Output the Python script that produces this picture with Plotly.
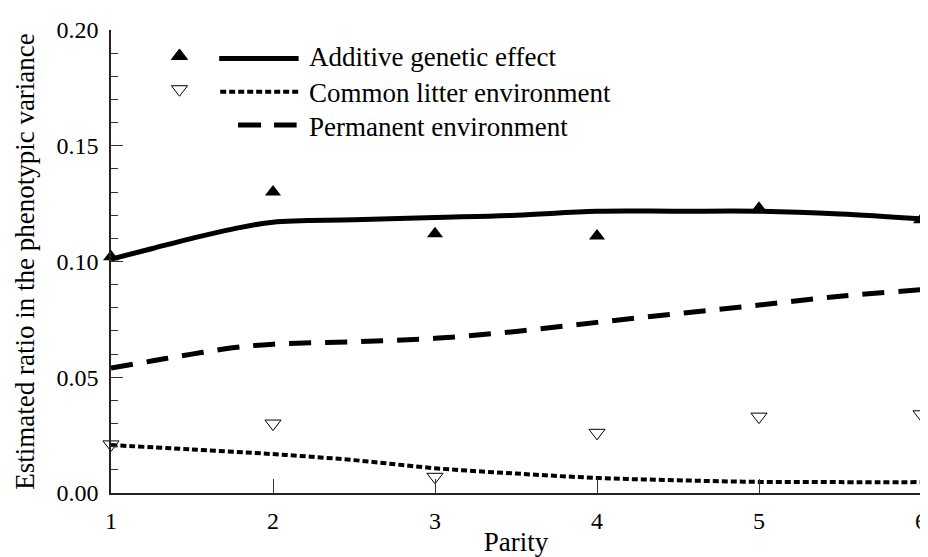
import plotly.graph_objects as go

# ---- data ----
parity = [1, 2, 3, 4, 5, 6]
additive_obs = [0.102, 0.130, 0.112, 0.111, 0.123, 0.118]
litter_obs = [0.021, 0.030, 0.007, 0.026, 0.033, 0.034]

curve_x_add = [1, 1.25, 1.5, 1.75, 2, 2.5, 3, 3.5, 4, 4.5, 5, 5.5, 6]
additive_fit = [0.101, 0.1055, 0.110, 0.114, 0.117, 0.118, 0.119, 0.120, 0.1217, 0.1217, 0.1217, 0.1205, 0.1184]

curve_x_perm = [1, 1.25, 1.5, 1.75, 2, 2.5, 3, 3.5, 4, 4.5, 5, 5.5, 6]
permanent_fit = [0.054, 0.057, 0.060, 0.0627, 0.0643, 0.0653, 0.0668, 0.0698, 0.0737, 0.0775, 0.0812, 0.085, 0.0878]

curve_x_lit = [1, 1.5, 2, 2.5, 3, 3.5, 4, 4.5, 5, 5.5, 6]
litter_fit = [0.0207, 0.0188, 0.0168, 0.0142, 0.0107, 0.0084, 0.0065, 0.0055, 0.0048, 0.0047, 0.0047]

series_names = ["Additive genetic effect", "Common litter environment", "Permanent environment"]
x_ticks = [1, 2, 3, 4, 5, 6]
y_ticks = [0.00, 0.05, 0.10, 0.15, 0.20]

FONT = "Liberation Serif"
OFF = 8  # page body margin offset of the plot div
W, H = 928, 557
ML, MT = 111 - OFF, 20 - OFF
PW, PH = 816, 473
MR = W - ML - PW
MB = H - MT - PH


def px(x):
    # page pixel x -> paper fraction
    return (x - OFF - ML) / PW


def py(y):
    # page pixel y -> paper fraction
    return (MT + PH + OFF - y) / PH


fig = go.Figure()

fig.add_trace(go.Scatter(x=curve_x_add, y=additive_fit, mode="lines", line=dict(color="black", width=5, shape="spline"),
                         showlegend=False, cliponaxis=False))
fig.add_trace(go.Scatter(x=curve_x_perm, y=permanent_fit, mode="lines",
                         line=dict(color="black", width=5, shape="spline", dash="22px,14px"),
                         showlegend=False, cliponaxis=False))
fig.add_trace(go.Scatter(x=curve_x_lit, y=litter_fit, mode="lines",
                         line=dict(color="black", width=4, shape="spline", dash="6px,3px"),
                         showlegend=False, cliponaxis=False))
fig.add_trace(go.Scatter(x=parity, y=additive_obs, mode="markers",
                         marker=dict(symbol="triangle-up", size=14, color="black"),
                         showlegend=False, cliponaxis=False))
fig.add_trace(go.Scatter(x=parity, y=litter_obs, mode="markers",
                         marker=dict(symbol="triangle-down-open", size=14, color="black", line=dict(width=1, color="black")),
                         showlegend=False, cliponaxis=False))

# ---- hand-built legend (marker left, long line sample, text) ----
fig.add_trace(go.Scatter(x=[px(180), px(180)], y=[py(46.5), py(80.5)], mode="markers",
                         marker=dict(symbol=["triangle-up", "triangle-down-open"], size=14, color="black",
                                     line=dict(width=1, color="black")),
                         xaxis="x2", yaxis="y2", showlegend=False, cliponaxis=False, hoverinfo="skip"))

legend_rows = [
    dict(y=49, x0=220, x1=300, width=5, dash="solid", ty=48),
    dict(y=83, x0=221, x1=300, width=4, dash="6px,3px", ty=84),
    dict(y=117, x0=239, x1=298, width=5, dash="23px,13px", ty=119),
]
for name, row in zip(series_names, legend_rows):
    fig.add_shape(type="line", xref="paper", yref="paper", x0=px(row["x0"]), x1=px(row["x1"]),
                  y0=py(row["y"]), y1=py(row["y"]), line=dict(color="black", width=row["width"], dash=row["dash"]))
    fig.add_annotation(x=px(308), y=py(row["ty"]), xref="paper", yref="paper", text=name, showarrow=False,
                       xanchor="left", yanchor="middle", font=dict(family=FONT, size=27, color="black"))

fig.update_layout(
    width=W, height=H,
    margin=dict(l=ML, r=MR, t=MT, b=MB, pad=0),
    plot_bgcolor="white", paper_bgcolor="white",
    font=dict(family=FONT, size=24, color="black"),
    xaxis=dict(range=[1, 6], tickvals=x_ticks, ticktext=[str(v) for v in x_ticks], ticks="inside", ticklen=14,
               tickwidth=1, tickcolor="#333", showline=True, linecolor="#222", linewidth=1.5, showgrid=False,
               zeroline=False, ticklabelstandoff=5, ticklabeloverflow="allow", tickfont=dict(family=FONT, size=24),
               title=dict(text="Parity", font=dict(family=FONT, size=27), standoff=0)),
    yaxis=dict(range=[0, 0.20], tickvals=y_ticks, tickformat=".2f", ticks="inside", ticklen=12, tickwidth=1,
               tickcolor="#333", showline=True, linecolor="#222", linewidth=1.5, showgrid=False, zeroline=False,
               ticklabelstandoff=6, ticklabeloverflow="allow", tickfont=dict(family=FONT, size=24),
               minor=dict(dtick=0.01, ticks="inside", ticklen=7, tickwidth=1, tickcolor="#333", showgrid=False),
               title=dict(text="Estimated ratio in the phenotypic variance", font=dict(family=FONT, size=27),
                          standoff=14)),
    xaxis2=dict(range=[0, 1], overlaying="x", visible=False, fixedrange=True),
    yaxis2=dict(range=[0, 1], overlaying="y", visible=False, fixedrange=True),
)

fig.write_html("out.html")
